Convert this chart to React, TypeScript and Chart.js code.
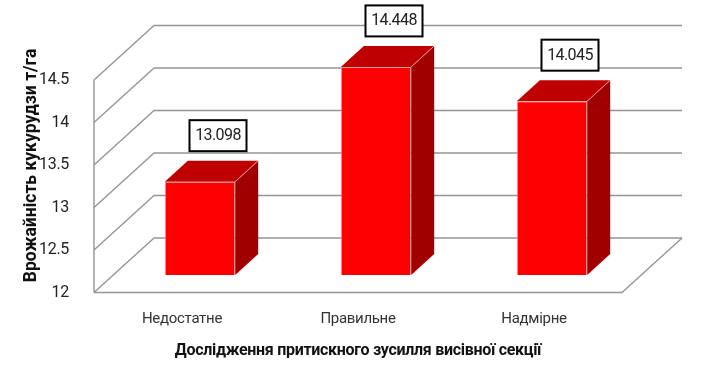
import React, { useEffect, useRef } from "react";
import { Chart, registerables } from "chart.js";

Chart.register(...registerables);

const categories = ["Недостатне", "Правильне", "Надмірне"];
const yieldValues = [13.098, 14.448, 14.045];
const valueLabels = ["13.098", "14.448", "14.045"];
const yTitle = "Врожайність кукурудзи т/га";
const xTitle = "Дослідження притискного зусилля висівної секції";
const FONT = 'Roboto, sans-serif';

const WALL = { dx: 60, dy: -54.5 };
const SHIFT = { dx: 18, dy: -17.5 };
const BAR_DEPTH = { dx: 23, dy: -21 };
const GRID = "#949494";

const chart3d = {
  id: "chart3d",
  beforeDraw(chart: any) {
    chart.ctx.letterSpacing = "-0.3px";
  },
  beforeDatasetsDraw(chart: any) {
    const { ctx, chartArea: a, scales } = chart;
    const y = scales.y;
    ctx.save();
    ctx.strokeStyle = GRID;
    ctx.lineWidth = 1.4;
    const line = (x1: number, y1: number, x2: number, y2: number) => {
      ctx.beginPath();
      ctx.moveTo(x1, y1);
      ctx.lineTo(x2, y2);
      ctx.stroke();
    };
    line(a.left, y.getPixelForValue(y.min), a.left, y.getPixelForValue(y.max));
    y.ticks.forEach((t: any) => {
      const py = y.getPixelForValue(t.value);
      line(a.left, py, a.left + WALL.dx, py + WALL.dy);
      line(a.left + WALL.dx, py + WALL.dy, a.right + WALL.dx, py + WALL.dy);
    });
    line(a.left, a.bottom, a.right, a.bottom);
    line(a.right, a.bottom, a.right + WALL.dx, a.bottom + WALL.dy);
    ctx.restore();

    ctx.save();
    ctx.translate(SHIFT.dx, SHIFT.dy);
    const meta = chart.getDatasetMeta(0);
    meta.data.forEach((bar: any) => {
      const hw = bar.width / 2;
      const l = bar.x - hw;
      const r = bar.x + hw;
      ctx.lineWidth = 1;
      ctx.strokeStyle = "#e39a9a";
      ctx.fillStyle = "#a00000";
      ctx.beginPath();
      ctx.moveTo(r, bar.y);
      ctx.lineTo(r + BAR_DEPTH.dx, bar.y + BAR_DEPTH.dy);
      ctx.lineTo(r + BAR_DEPTH.dx, bar.base + BAR_DEPTH.dy);
      ctx.lineTo(r, bar.base);
      ctx.closePath();
      ctx.fill();
      ctx.fillStyle = "#bf0000";
      ctx.beginPath();
      ctx.moveTo(l, bar.y);
      ctx.lineTo(l + BAR_DEPTH.dx, bar.y + BAR_DEPTH.dy);
      ctx.lineTo(r + BAR_DEPTH.dx, bar.y + BAR_DEPTH.dy);
      ctx.lineTo(r, bar.y);
      ctx.closePath();
      ctx.fill();
      ctx.beginPath();
      ctx.moveTo(r, bar.y);
      ctx.lineTo(r + BAR_DEPTH.dx, bar.y + BAR_DEPTH.dy);
      ctx.stroke();
    });
  },
  afterDatasetsDraw(chart: any) {
    const { ctx } = chart;
    const meta = chart.getDatasetMeta(0);
    meta.data.forEach((bar: any, i: number) => {
      const w = 57;
      const h = 31;
      const cx = bar.x + 18;
      const cy = bar.y - 46;
      ctx.fillStyle = "#ffffff";
      ctx.fillRect(cx - w / 2, cy - h / 2, w, h);
      ctx.strokeStyle = "#000000";
      ctx.lineWidth = 2;
      ctx.strokeRect(cx - w / 2, cy - h / 2, w, h);
      ctx.fillStyle = "#222222";
      ctx.font = `16px ${FONT}`;
      ctx.letterSpacing = "-0.6px";
      ctx.textAlign = "center";
      ctx.textBaseline = "middle";
      ctx.fillText(valueLabels[i], cx, cy + 0.5);
    });
    ctx.restore();
  },
  afterDraw(chart: any) {
    const { ctx } = chart;
    ctx.save();
    ctx.translate(31.5, 165.5);
    ctx.rotate(-Math.PI / 2);
    ctx.fillStyle = "#111111";
    ctx.font = `bold 17.5px ${FONT}`;
    ctx.letterSpacing = "0px";
    ctx.textAlign = "center";
    ctx.textBaseline = "middle";
    ctx.fillText(yTitle, 0, 0);
    ctx.restore();
  },
};

export default function App() {
  const ref = useRef<HTMLCanvasElement>(null);
  useEffect(() => {
    const chart = new Chart(ref.current as HTMLCanvasElement, {
      type: "bar",
      data: {
        labels: categories,
        datasets: [
          {
            data: yieldValues,
            base: 12,
            backgroundColor: "#ff0000",
            borderColor: "#e39a9a",
            borderWidth: 1,
            barPercentage: 0.4,
            categoryPercentage: 1,
            clip: false,
          } as any,
        ],
      },
      plugins: [chart3d],
      options: {
        animation: false,
        responsive: false,
        layout: { padding: { top: 80, left: 0, right: 81, bottom: 0 } },
        plugins: { legend: { display: false }, tooltip: { enabled: false } },
        scales: {
          y: {
            min: 12,
            max: 14.5,
            grid: { display: false },
            border: { display: false },
            ticks: {
              stepSize: 0.5,
              padding: 17,
              color: "#222222",
              font: { family: FONT, size: 16 },
              callback: (v: any) => String(v),
            },
            afterFit: (s: any) => {
              s.width = 94;
            },
          },
          x: {
            grid: { display: false },
            border: { display: false },
            ticks: {
              padding: 10,
              maxRotation: 0,
              autoSkip: false,
              color: "#333333",
              font: { family: FONT, size: 15 },
            },
            title: {
              display: true,
              text: xTitle,
              color: "#111111",
              font: { family: FONT, size: 16, weight: "bold" },
              padding: { top: 0, bottom: 13 },
            },
            afterFit: (s: any) => {
              s.height = 81.5;
            },
          },
        },
      },
    });
    return () => chart.destroy();
  }, []);
  return (
    <canvas
      ref={ref}
      width={703}
      height={374}
      style={{ position: "absolute", left: 0, top: 0, display: "block" }}
    />
  );
}
